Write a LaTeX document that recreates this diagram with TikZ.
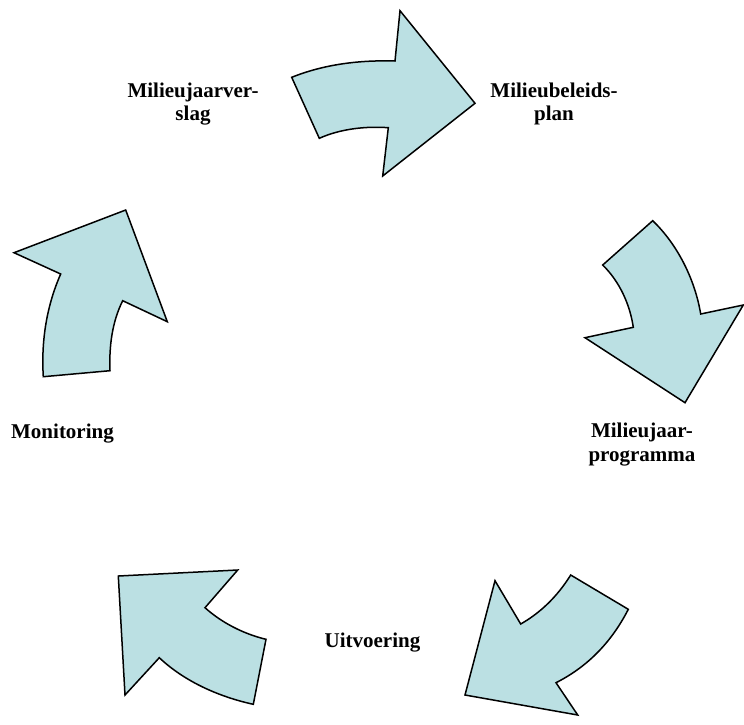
\documentclass[tikz,border=0pt]{standalone}
\usepackage{fontspec}
\setmainfont{Liberation Serif}
\definecolor{arrowfill}{RGB}{187,224,227}
\tikzset{
  cyclearrow/.style={draw=black, fill=arrowfill, line width=1.5pt, line join=miter},
  lbl/.style={font=\fontsize{21}{23.5}\selectfont\bfseries, align=center, inner sep=0pt, anchor=north}
}
\begin{document}
\begin{tikzpicture}[x=1pt,y=-1pt]
\useasboundingbox (0,0) rectangle (744,724);
% top arrow (to the right)
\path[cyclearrow] (291.7,77.3) .. controls (325,64) and (360,60) .. (395,61)
  -- (400,10.7) -- (475,103.3) -- (382.7,176) -- (388.3,127.7)
  .. controls (365,126) and (340,129) .. (319.3,138.3) -- cycle;
% right arrow (downwards)
\path[cyclearrow] (652.7,220.7) .. controls (678,245) and (695,280) .. (700.7,314)
  -- (743.3,305) -- (685,402.7) -- (585,337.7) -- (633.3,327.3)
  .. controls (630,305) and (620,282) .. (602.7,265) -- cycle;
% bottom right arrow (down-left)
\path[cyclearrow] (570.7,575) -- (628.3,609.3)
  .. controls (610,645) and (585,668) .. (556,682.7)
  -- (577.7,715) -- (465,695) -- (495,580.7) -- (520.7,624)
  .. controls (540,613) and (557,597) .. (570.7,575) -- cycle;
% bottom left arrow (up-left)
\path[cyclearrow] (118.3,576) -- (237.7,570) -- (205,607.7)
  .. controls (222,623) and (244,634) .. (266,639.3)
  -- (253.3,704.3)
  .. controls (220,697) and (185,682) .. (159.3,657.7)
  -- (125,695) -- cycle;
% left arrow (upwards)
\path[cyclearrow] (43.3,376.7) .. controls (41,340) and (47,305) .. (60.7,274)
  -- (14,252.7) -- (125.7,210) -- (167.3,321.7) -- (122.7,300.7)
  .. controls (112,322) and (109,347) .. (110,370.7) -- cycle;
% labels
\node[lbl] (jaarverslag) at (193,82.5) {Milieujaarver-\\slag};
\node[lbl] (beleidsplan) at (554,82.5) {Milieubeleids-\\plan};
\node[lbl] (jaarprogramma) at (642,423) {Milieujaar-\\programma};
\node[lbl] (monitoring) at (62.5,424) {Monitoring};
\node[lbl] (uitvoering) at (372.5,632.5) {Uitvoering};
\end{tikzpicture}
\end{document}
